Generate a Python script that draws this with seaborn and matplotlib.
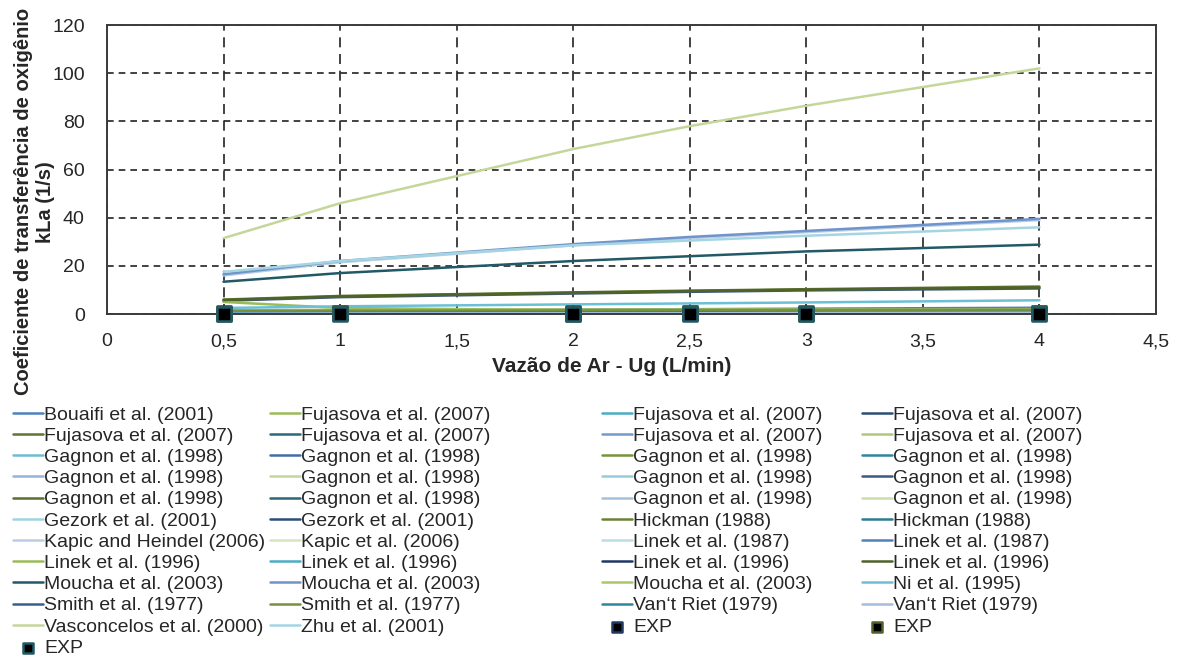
import numpy as np
import matplotlib.pyplot as plt
import seaborn as sns
from matplotlib.ticker import FuncFormatter

# air flow rate (L/min)
ug = [0.5, 1, 2, 2.5, 3, 4]

# kLa predicted by each correlation (1/s), one row per curve
bouaifi = [[1.0, 1.3, 1.8, 2.0, 2.2, 2.6]]
fujasova = [[1.6, 1.7, 1.8, 1.85, 1.9, 2.0],
            [0.3, 0.4, 0.5, 0.55, 0.6, 0.7],
            [0.8, 1.0, 1.2, 1.3, 1.4, 1.6],
            [6.0, 7.5, 9.0, 9.7, 10.3, 11.4],
            [0.5, 0.6, 0.8, 0.85, 0.9, 1.0],
            [0.4, 0.5, 0.6, 0.65, 0.7, 0.8],
            [1.0, 1.1, 1.3, 1.35, 1.4, 1.5]]
gagnon = [[0.2, 0.3, 0.4, 0.45, 0.5, 0.6],
          [0.6, 0.8, 1.0, 1.1, 1.2, 1.4],
          [1.2, 1.3, 1.5, 1.55, 1.6, 1.7],
          [0.3, 0.4, 0.6, 0.65, 0.7, 0.8],
          [0.7, 0.9, 1.1, 1.2, 1.3, 1.4],
          [0.9, 1.0, 1.2, 1.25, 1.3, 1.4],
          [0.1, 0.2, 0.3, 0.35, 0.4, 0.5],
          [5.5, 7.0, 8.5, 9.2, 9.8, 10.6],
          [1.3, 1.4, 1.5, 1.55, 1.6, 1.7],
          [0.4, 0.5, 0.7, 0.75, 0.8, 0.9],
          [0.8, 0.9, 1.0, 1.05, 1.1, 1.2],
          [1.1, 1.2, 1.4, 1.45, 1.5, 1.6]]
gezork = [[-0.2, -0.1, 0.0, 0.05, 0.1, 0.2],
          [0.5, 0.7, 0.9, 1.0, 1.1, 1.3]]
hickman = [[1.4, 1.5, 1.6, 1.65, 1.7, 1.8],
           [0.6, 0.7, 0.9, 0.95, 1.0, 1.1]]
kapic = [[16.0, 21.5, 28.5, 31.5, 34.0, 39.0],
         [0.9, 1.0, 1.1, 1.15, 1.2, 1.3]]
linek87 = [[-0.3, -0.2, -0.1, -0.1, 0.0, 0.1],
           [0.7, 0.9, 1.2, 1.3, 1.4, 1.6]]
linek96 = [[5.0, 2.5, 1.6, 1.5, 1.4, 1.3],
           [0.2, 0.3, 0.5, 0.55, 0.6, 0.7],
           [0.9, 1.1, 1.4, 1.5, 1.6, 1.8],
           [5.8, 7.3, 8.8, 9.5, 10.1, 11.0]]
moucha = [[13.4, 17.0, 22.0, 24.0, 26.0, 28.8],
          [16.5, 22.0, 29.0, 32.0, 34.5, 39.5],
          [1.5, 1.6, 1.7, 1.75, 1.8, 1.9]]
ni = [[2.5, 3.2, 4.0, 4.4, 4.8, 5.7]]
smith = [[0.5, 0.7, 1.0, 1.1, 1.2, 1.4],
         [1.3, 1.4, 1.5, 1.55, 1.6, 1.7]]
vanriet = [[0.3, 0.4, 0.6, 0.65, 0.7, 0.8],
           [0.1, 0.2, 0.3, 0.3, 0.4, 0.5]]
vasconcelos = [[31.5, 46.0, 68.5, 78.0, 86.5, 102.0]]
zhu = [[17.5, 22.0, 28.5, 30.5, 32.5, 36.0]]

# experimental points (drawn in this order)
exp_values = [[0.3, 0.4, 0.3, 0.4, 0.3, 0.4],
              [0.2, 0.3, 0.2, 0.3, 0.2, 0.3],
              [0.1, 0.2, 0.1, 0.2, 0.1, 0.2]]
exp_edges = ['#1F3864', '#4F6228', '#215967']

groups = [('Bouaifi et al. (2001)', bouaifi),
          ('Fujasova et al. (2007)', fujasova),
          ('Gagnon et al. (1998)', gagnon),
          ('Gezork et al. (2001)', gezork),
          ('Hickman (1988)', hickman),
          ('Kapic and Heindel (2006)', kapic[:1]),
          ('Kapic et al. (2006)', kapic[1:]),
          ('Linek et al. (1987)', linek87),
          ('Linek et al. (1996)', linek96),
          ('Moucha et al. (2003)', moucha),
          ('Ni et al. (1995)', ni),
          ('Smith et al. (1977)', smith),
          ('Van\u2018t Riet (1979)', vanriet),
          ('Vasconcelos et al. (2000)', vasconcelos),
          ('Zhu et al. (2001)', zhu)]

colors = ['#4F81BD', '#9BBB59', '#4BACC6', '#2C4D75', '#5F7530', '#276A7C', '#729ACA', '#AFC97A',
          '#6FBDD1', '#426DA4', '#77933C', '#31859C', '#95B3D7', '#C3D69B', '#93CDDD', '#3B5A80',
          '#5A6E2E', '#2A6878', '#A7BFDE', '#CCDDAA', '#A0D3E0', '#2C4D75', '#6B8236', '#2E7B8F',
          '#B9CDE5', '#D7E4BD', '#B7DEE8', '#4F81BD', '#9BBB59', '#4BACC6', '#1F3864', '#4F6228',
          '#215967', '#6F94CC', '#A9C86C', '#6CC0D6', '#3A5F8B', '#76923C', '#31859C', '#A6BDDB',
          '#C4D79B', '#A5D5E2']

sns.set_style('white')
plt.rcParams['font.family'] = ['Liberation Sans', 'DejaVu Sans']

fig = plt.figure(figsize=(11.82, 6.55), dpi=100)
ax = fig.add_axes([0.0905, 0.5206, 0.8875, 0.4412])

k = 0
for name, rows in groups:
    for vals in rows:
        sns.lineplot(x=ug, y=vals, color=colors[k], linewidth=1.8, label=name, ax=ax)
        k += 1

for vals, edge in zip(exp_values, exp_edges):
    sns.scatterplot(x=ug, y=vals, marker='s', s=95, color='black', edgecolor=edge,
                    linewidth=1.8, label='EXP', ax=ax, zorder=5, clip_on=False)

if ax.get_legend() is not None:
    ax.get_legend().remove()

ax.set_xlim(0, 4.5)
ax.set_ylim(0, 120)
ax.set_xticks(np.arange(0, 4.51, 0.5))
ax.set_yticks(np.arange(0, 121, 20))
ax.xaxis.set_major_formatter(FuncFormatter(lambda v, p: f'{v:g}'.replace('.', ',')))
ax.tick_params(axis='both', length=0, labelsize=14)
ax.tick_params(axis='x', pad=14)
ax.tick_params(axis='y', pad=16)

ax.xaxis.grid(True, color='#222222', linestyle=(0, (6, 4)), linewidth=1.2)
ax.yaxis.grid(True, color='#222222', linestyle=(0, (4, 3)), linewidth=1.2)
for s in ax.spines.values():
    s.set_color('#3a3a3a')
    s.set_linewidth(1.4)

ax.set_xlabel('Vazão de Ar - Ug (L/min)', fontsize=15, fontweight='bold')
ax.set_ylabel('Coeficiente de transferência de oxigênio\nkLa (1/s)', fontsize=14.5, fontweight='bold')
ax.xaxis.set_label_coords(0.481, -0.15)
ax.yaxis.set_label_coords(-0.05, 0.388)

# legend laid out row by row in four columns
handles, labels = ax.get_legend_handles_labels()
col_x = [13, 270, 602, 862]
for c in range(4):
    hc = handles[c::4]
    lc = labels[c::4]
    fig.legend(hc, lc, loc='upper left', bbox_to_anchor=(col_x[c] / 1182, 1 - 406 / 655),
               frameon=False, fontsize=14, borderpad=0, borderaxespad=0,
               labelspacing=0.185, handlelength=1.55, handletextpad=0.05,
               scatterpoints=1, markerscale=0.75)

plt.savefig('out.png', dpi=100)
